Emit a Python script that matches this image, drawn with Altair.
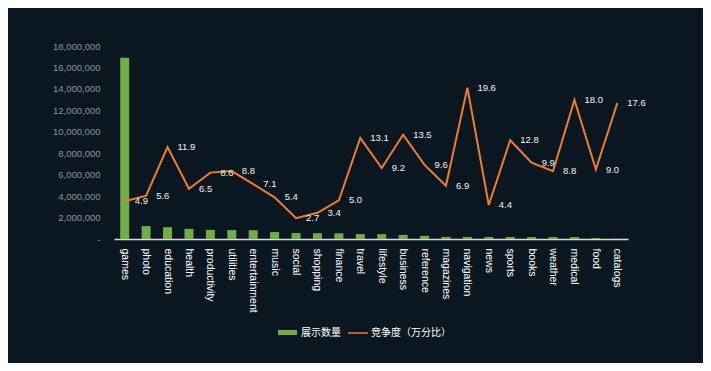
import altair as alt
import pandas as pd

categories = ["games", "photo", "education", "health", "productivity", "utilities",
              "entertainment", "music", "social", "shopping", "finance", "travel",
              "lifestyle", "business", "reference", "magazines", "navigation", "news",
              "sports", "books", "weather", "medical", "food", "catalogs"]
counts = [16900000, 1200000, 1100000, 950000, 850000, 830000,
          820000, 650000, 560000, 540000, 530000, 460000,
          450000, 380000, 290000, 200000, 190000, 190000,
          185000, 180000, 180000, 175000, 90000, 20000]
rates = [4.9, 5.6, 11.9, 6.5, 8.6, 8.8, 7.1, 5.4, 2.7, 3.4, 5.0, 13.1,
         9.2, 13.5, 9.6, 6.9, 19.6, 4.4, 12.8, 9.9, 8.8, 18.0, 9.0, 17.6]
bar_name = "展示数量"
line_name = "竞争度（万分比）"

df = pd.DataFrame({"category": categories, "count": counts, "rate": rates,
                   "s1": bar_name, "s2": line_name})

FONT = "Liberation Sans, Noto Sans CJK SC, sans-serif"
GREEN = "#70ad47"
ORANGE = "#ed7d31"

x = alt.X("category:N", sort=categories, title=None,
          scale=alt.Scale(paddingInner=0, paddingOuter=0),
          axis=alt.Axis(labelAngle=90, labelColor="#ffffff", labelFontSize=10.5,
                        labelFont=FONT, ticks=False, domainColor="#d9d9d9",
                        domainWidth=1.5, labelPadding=9))

bars = alt.Chart(df).mark_bar(width={"band": 0.42}).encode(
    x=x,
    y=alt.Y("count:Q", title=None,
            scale=alt.Scale(domain=[0, 18000000], nice=False),
            axis=alt.Axis(orient="left", values=list(range(0, 18000001, 2000000)),
                          labelExpr="datum.value == 0 ? '-\u00a0' : format(datum.value, ',')",
                          labelColor="#8c939c", labelFontSize=9.5, labelFont=FONT,
                          domain=False, ticks=False, grid=False, labelPadding=14)),
    color=alt.Color("s1:N", scale=alt.Scale(domain=[bar_name], range=[GREEN]),
                    legend=alt.Legend(title=None, orient="none", legendX=163, legendY=276,
                                      symbolType="M-1,-0.27H1V0.27H-1Z", symbolSize=361,
                                      labelColor="#ffffff", labelFontSize=10,
                                      labelFont=FONT, padding=0, labelOffset=3,
                                      symbolOpacity=1)),
)

line = alt.Chart(df).mark_line(strokeWidth=2).encode(
    x=x,
    y=alt.Y("rate:Q", title=None,
            scale=alt.Scale(domain=[0, 25], nice=False),
            axis=alt.Axis(orient="right", values=[0, 5, 10, 15, 20, 25],
                          labelExpr="datum.value == 0 ? '-\u00a0' : format(datum.value, '.1f')",
                          labelColor="#8c939c", labelFontSize=9.5, labelFont=FONT,
                          labelAlign="right", labelPadding=19,
                          domain=False, ticks=False, grid=False)),
    stroke=alt.Stroke("s2:N", scale=alt.Scale(domain=[line_name], range=[ORANGE]),
                      legend=alt.Legend(title=None, orient="none", legendX=233, legendY=276,
                                        symbolType="stroke", symbolSize=400,
                                        symbolStrokeWidth=1.5,
                                        labelColor="#ffffff", labelFontSize=10,
                                        labelFont=FONT, padding=0, labelOffset=2)),
)

labels = alt.Chart(df).mark_text(align="left", baseline="middle", dx=10,
                                 color="#f2f4f8", fontSize=9.5, font=FONT).encode(
    x=x,
    y=alt.Y("rate:Q", scale=alt.Scale(domain=[0, 25], nice=False), axis=None),
    text=alt.Text("rate:Q", format=".1f"),
)

chart = alt.layer(bars, alt.layer(line, labels)).resolve_scale(
    y="independent", color="independent"
).properties(
    width=514, height=193,
    autosize=alt.AutoSizeParams(type="none"),
    padding={"left": 106, "top": 38, "right": 75, "bottom": 124},
    background="#0b1720",
).configure_view(stroke=None)

chart.save("out.html", embed_options={"renderer": "svg", "actions": False})
